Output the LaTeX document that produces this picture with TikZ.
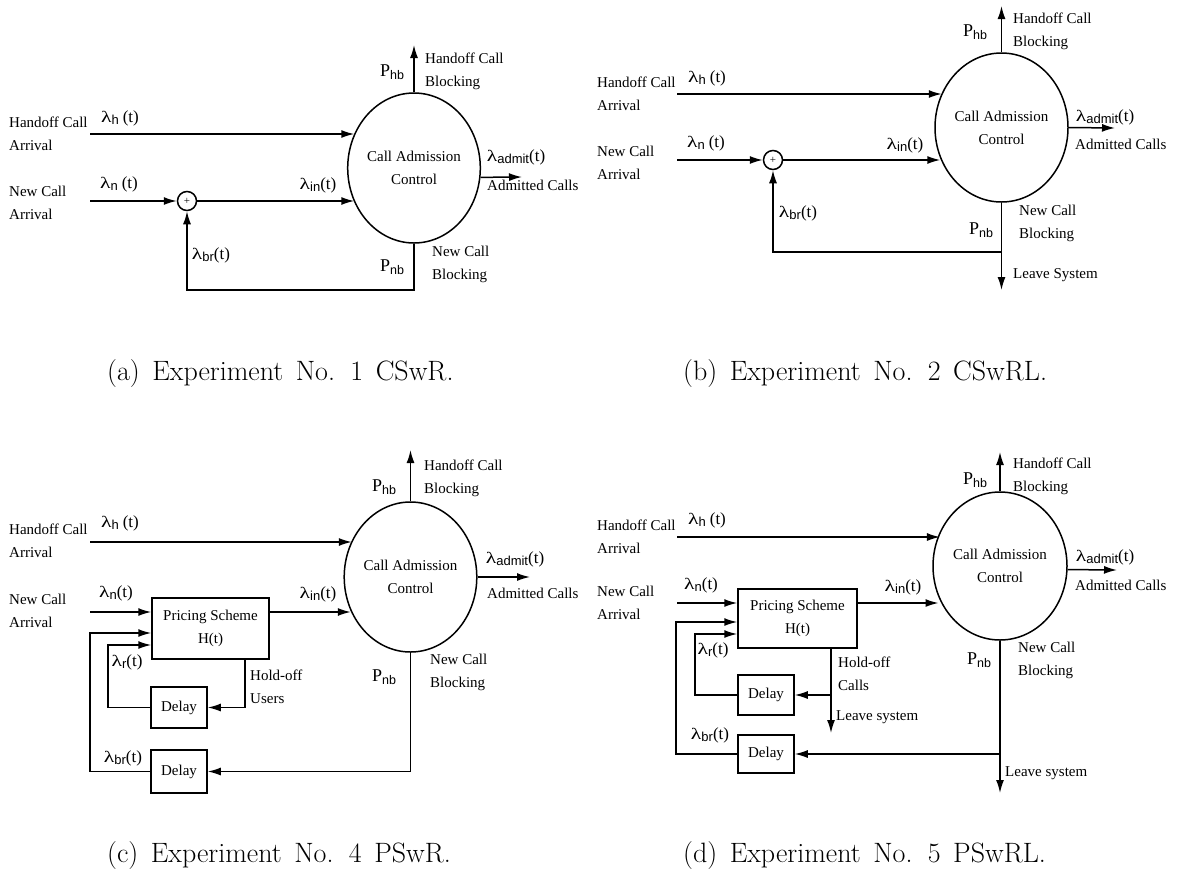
\documentclass[tikz,border=0pt]{standalone}
\usepackage{graphicx}
\usepackage{fontspec}
\newfontfamily\diag{Liberation Serif}
\newfontfamily\subf{Liberation Sans}
\usetikzlibrary{arrows.meta,shapes.geometric}
\newcommand\lam[1]{{\fontsize{16}{16}\selectfont\scalebox{1.35}[1]{λ}}\raisebox{-0.4ex}{\subf\fontsize{13}{13}\selectfont #1}{\fontsize{17}{17}\selectfont(t)}}
\newcommand\pp[1]{{\fontsize{18}{18}\selectfont P}\raisebox{-0.45ex}{\subf\fontsize{12.5}{12.5}\selectfont #1}}
\newcommand\captext[1]{\fontsize{28}{30}\selectfont\spaceskip=12.5pt\relax #1}
\tikzset{
  every node/.style={font=\diag\fontsize{15}{23}\selectfont, inner sep=0pt},
  arr/.style={line width=1.5pt, -{Latex[length=13pt,width=8pt]}},
  cac/.style={ellipse, draw, line width=1.5pt, align=center},
  sumc/.style={circle, draw, line width=1.5pt, minimum size=19pt, font=\diag\fontsize{11}{11}\selectfont},
  boxn/.style={rectangle, draw, line width=1.5pt, align=center},
  lbl/.style={anchor=center},
  txt/.style={anchor=west, align=left},
  captxt/.style={font=\rmfamily, anchor=west}
}
\begin{document}
\begin{tikzpicture}[x=1pt,y=-1pt]
\useasboundingbox (0,0) rectangle (1177,895);
% ================= (a) =================
\node[cac, minimum width=132pt, minimum height=150pt] (cacA) at (414,168) {Call Admission\\Control};
\node[txt] (hA) at (9,133.5) {Handoff Call\\Arrival};
\node[txt] (nA) at (9,202.5) {New Call\\Arrival};
\coordinate (hsA) at (90,134);
\coordinate (nsA) at (90,201);
\node[sumc] (plusA) at (187,201) {+};
\draw[arr] (hsA) -- (hsA -| cacA.150);
\draw[arr] (nsA) -- (plusA.west);
\draw[arr] (plusA.east) -- (plusA.east -| cacA.210);
\coordinate (fbA) at (414,290);
\draw[arr] (cacA.south) -- (fbA) -| (plusA.south);
\coordinate (topA) at (414,45);
\draw[arr] (cacA.north) -- (topA);
\coordinate (admA) at (522,177);
\draw[arr] (cacA.-8) -- (admA);
\node[lbl] (lhA) at (120,118) {\lam{h\hspace{4pt}}};
\node[lbl] (lnA) at (119,184) {\lam{n\hspace{4pt}}};
\node[lbl] (liA) at (318,185) {\lam{in}};
\node[lbl] (lbA) at (211,255) {\lam{br}};
\node[lbl] (phA) at (392,72) {\pp{hb}};
\node[txt] (hbA) at (425,71) {Handoff Call\\Blocking};
\node[lbl] (laA) at (516,157) {\lam{admit}};
\node[txt] (acA) at (487,185) {Admitted Calls};
\node[lbl] (pnA) at (392,267) {\pp{nb}};
\node[txt] (nbA) at (432,264) {New Call\\Blocking};
% ================= (b) =================
\node[cac, minimum width=133pt, minimum height=149pt] (cacB) at (1001.5,127.5) {Call Admission\\Control};
\node[txt] (hB) at (597,93.5) {Handoff Call\\Arrival};
\node[txt] (nB) at (597,162.5) {New Call\\Arrival};
\coordinate (hsB) at (677,94);
\coordinate (nsB) at (677,160);
\node[sumc] (plusB) at (773,160) {+};
\draw[arr] (hsB) -- (hsB -| cacB.150);
\draw[arr] (nsB) -- (plusB.west);
\draw[arr] (plusB.east) -- (plusB.east -| cacB.207);
\coordinate (jB) at (1001.5,252);
\coordinate (lvB) at (1001.5,290);
\draw[arr] (cacB.south) -- (lvB);
\draw[arr] (jB) -| (plusB.south);
\coordinate (topB) at (1001.5,6);
\draw[arr] (cacB.north) -- (topB);
\coordinate (admB) at (1115,128);
\draw[arr] (cacB.east) -- (admB);
\node[lbl] (lhB) at (707,78) {\lam{h\hspace{4pt}}};
\node[lbl] (lnB) at (706,143) {\lam{n\hspace{4pt}}};
\node[lbl] (liB) at (905,145) {\lam{in}};
\node[lbl] (lbB) at (798,213) {\lam{br}};
\node[lbl] (phB) at (975,32) {\pp{hb}};
\node[txt] (hbB) at (1013,31) {Handoff Call\\Blocking};
\node[lbl] (laB) at (1105,117) {\lam{admit}};
\node[txt] (acB) at (1075,144) {Admitted Calls};
\node[lbl] (pnB) at (981,230) {\pp{nb}};
\node[txt] (nbB) at (1019,223) {New Call\\Blocking};
\node[txt] (lsB) at (1013,275) {Leave System};
% ================= (c) =================
\node[cac, minimum width=130pt, minimum height=150pt] (cacC) at (410.5,577) {Call Admission\\Control};
\node[txt] (hC) at (9,541) {Handoff Call\\Arrival};
\node[txt] (nC) at (9,611) {New Call\\Arrival};
\node[boxn, minimum width=117pt, minimum height=61pt] (psC) at (210.5,628.5) {Pricing Scheme\\H(t)};
\node[boxn, minimum width=56pt, minimum height=41pt] (d1C) at (179,707.5) {Delay};
\node[boxn, minimum width=56pt, minimum height=43pt] (d2C) at (179,771.5) {Delay};
\coordinate (hsC) at (90,542);
\coordinate (nsC) at (90,612);
\draw[arr] (hsC) -- (hsC -| cacC.148);
\draw[arr] (nsC) -- (nsC -| psC.west);
\draw[arr] (nsC -| psC.east) -- (nsC -| cacC.210);
\coordinate (o1C) at (90,633);
\coordinate (o2C) at (90,771.5);
\draw[arr] (d2C.west) -- (o2C) -- (o1C) -- (o1C -| psC.west);
\coordinate (i1C) at (108,645);
\coordinate (i2C) at (108,707.5);
\draw[arr] (d1C.west) -- (i2C) -- (i1C) -- (i1C -| psC.west);
\coordinate (hoC) at (245,659);
\coordinate (ho2C) at (245,707.5);
\draw[arr] (hoC) -- (ho2C) -- (d1C.east);
\coordinate (pbC) at (410.5,771.5);
\draw[arr] (cacC.south) -- (pbC) -- (d2C.east);
\coordinate (topC) at (410.5,450);
\draw[arr] (cacC.north) -- (topC);
\coordinate (admC) at (530,577);
\draw[arr] (cacC.east) -- (admC);
\node[lbl] (lhC) at (120,523) {\lam{h\hspace{4pt}}};
\node[lbl] (lnC) at (116,593) {\lam{n}};
\node[lbl] (liC) at (318,594) {\lam{in}};
\node[lbl] (lrC) at (127,662) {\lam{r}};
\node[lbl] (lbC) at (123,758) {\lam{br}};
\node[txt] (hdC) at (250,687) {Hold-off\\Users};
\node[lbl] (phC) at (384,487) {\pp{hb}};
\node[txt] (hbC) at (424,478) {Handoff Call\\Blocking};
\node[lbl] (laC) at (515,559) {\lam{admit}};
\node[txt] (acC) at (487,593) {Admitted Calls};
\node[lbl] (pnC) at (384,677) {\pp{nb}};
\node[txt] (nbC) at (430,672) {New Call\\Blocking};
% ================= (d) =================
\node[cac, minimum width=134pt, minimum height=148pt] (cacD) at (1000,566) {Call Admission\\Control};
\node[txt] (hD) at (597,536.5) {Handoff Call\\Arrival};
\node[txt] (nD) at (597,602.5) {New Call\\Arrival};
\node[boxn, minimum width=119pt, minimum height=59pt] (psD) at (797.5,618.5) {Pricing Scheme\\H(t)};
\node[boxn, minimum width=56pt, minimum height=40pt] (d1D) at (766,695) {Delay};
\node[boxn, minimum width=56pt, minimum height=38pt] (d2D) at (766,754) {Delay};
\coordinate (hsD) at (677,537);
\coordinate (nsD) at (677,603);
\draw[arr] (hsD) -- (hsD -| cacD.150);
\draw[arr] (nsD) -- (nsD -| psD.west);
\draw[arr] (nsD -| psD.east) -- (nsD -| cacD.207);
\coordinate (o1D) at (676,622);
\coordinate (o2D) at (676,754);
\draw[arr] (d2D.west) -- (o2D) -- (o1D) -- (o1D -| psD.west);
\coordinate (i1D) at (695,634);
\coordinate (i2D) at (695,695);
\draw[arr] (d1D.west) -- (i2D) -- (i1D) -- (i1D -| psD.west);
\coordinate (hoD) at (831,648);
\coordinate (ho2D) at (831,695);
\coordinate (ho3D) at (831,733);
\draw[arr] (hoD) -- (ho3D);
\draw[arr] (ho2D) -- (d1D.east);
\coordinate (pbD) at (1000,754);
\coordinate (lvD) at (1000,793);
\draw[arr] (cacD.south) -- (lvD);
\draw[arr] (pbD) -- (d2D.east);
\coordinate (topD) at (1000,452);
\draw[arr] (cacD.north) -- (topD);
\coordinate (admD) at (1117,570);
\draw[arr] (cacD.-3) -- (admD);
\node[lbl] (lhD) at (707,520) {\lam{h\hspace{4pt}}};
\node[lbl] (lnD) at (701,585) {\lam{n}};
\node[lbl] (liD) at (903,587) {\lam{in}};
\node[lbl] (lrD) at (713,650) {\lam{r}};
\node[lbl] (lbD) at (710,735) {\lam{br}};
\node[txt] (hdD) at (838,674) {Hold-off\\Calls};
\node[txt] (ls1D) at (836,717) {Leave system};
\node[lbl] (phD) at (975,480) {\pp{hb}};
\node[txt] (hbD) at (1013,476) {Handoff Call\\Blocking};
\node[lbl] (laD) at (1105,557) {\lam{admit}};
\node[txt] (acD) at (1075,585) {Admitted Calls};
\node[lbl] (pnD) at (979,660) {\pp{nb}};
\node[txt] (nbD) at (1018,660) {New Call\\Blocking};
\node[txt] (ls2D) at (1005,773) {Leave system};
% ================= captions =================
\node[captxt] (capA) at (107,374) {\captext{(a) Experiment No. 1 CSwR.}};
\node[captxt] (capB) at (683,374) {\captext{(b) Experiment No. 2 CSwRL.}};
\node[captxt] (capC) at (107,855) {\captext{(c) Experiment No. 4 PSwR.}};
\node[captxt] (capD) at (683,855) {\captext{(d) Experiment No. 5 PSwRL.}};
\end{tikzpicture}
\end{document}
